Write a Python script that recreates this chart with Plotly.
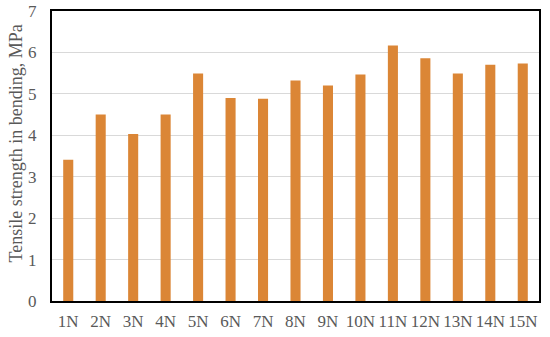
import plotly.graph_objects as go

# sample labels and tensile strength values (MPa)
samples = ["1N", "2N", "3N", "4N", "5N", "6N", "7N", "8N",
           "9N", "10N", "11N", "12N", "13N", "14N", "15N"]
strength = [3.41, 4.50, 4.03, 4.50, 5.49, 4.90, 4.88, 5.32,
            5.20, 5.47, 6.17, 5.86, 5.49, 5.70, 5.73]

fig = go.Figure()
fig.add_trace(go.Bar(x=samples, y=strength, marker_color="#DB8636",
                     marker_line_width=0))

family = "Liberation Serif, DejaVu Serif, serif"
font = dict(family=family, size=17, color="#595959")

fig.update_layout(
    width=550, height=337,
    margin=dict(l=52, r=11, t=11, b=36),
    plot_bgcolor="white", paper_bgcolor="white",
    bargap=0.69,
    showlegend=False,
    font=font,
)
fig.update_xaxes(showline=True, linecolor="black", linewidth=2, mirror=True,
                 ticks="", tickfont=font, automargin=False, ticklabelstandoff=4)
fig.update_yaxes(range=[0, 7], dtick=1, showline=True, linecolor="black",
                 linewidth=2, mirror=True, showgrid=True, gridcolor="#d9d9d9",
                 zeroline=False, ticks="", tickfont=font, automargin=False,
                 ticklabelstandoff=10)
fig.add_annotation(text="Tensile strength in bending, MPa", textangle=-90,
                   xref="paper", yref="paper", x=-0.075, y=0.545,
                   xanchor="center", yanchor="middle", showarrow=False,
                   font=dict(family=family, size=18, color="#595959"))

# drop the default body margin so the figure sits at the page corner
fig.write_html("out.html", config={"displayModeBar": False},
               post_script="document.body.style.margin='0';")
